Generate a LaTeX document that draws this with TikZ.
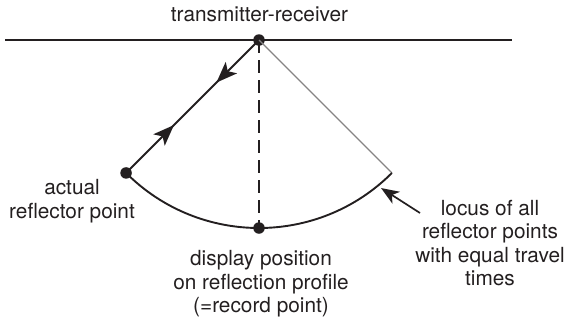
\documentclass[tikz,border=0pt]{standalone}
\usepackage{fontspec}
\setmainfont{TeX Gyre Heros}
\usetikzlibrary{arrows.meta,decorations.markings,calc}
\definecolor{ink}{HTML}{231F20}
\begin{document}
\begin{tikzpicture}[x=1pt,y=1pt,
  dot/.style={circle,fill=ink,inner sep=0pt,minimum size=11.5pt},
  lbl/.style={align=center,text=ink,font=\fontsize{20.8}{23.5}\selectfont,inner sep=0pt},
  ray/.style={line width=1.9pt,draw=ink},
  midarrows/.style={postaction={decorate},decoration={markings,
     mark=at position 0.36 with {\arrow{Stealth[length=21pt,width=16pt,inset=5pt]}},
     mark=at position 0.68 with {\arrowreversed{Stealth[length=21pt,width=16pt,inset=5pt]}}}}]
\useasboundingbox (0,0) rectangle (565,-322);
\coordinate (H1) at (5,-40);
\coordinate (H2) at (512,-40);
\draw[line width=1.5pt,draw=ink] (H1) -- (H2);
\node[dot] (T) at (259,-40) {};
\node[dot] (L) at ($(T)+(225:188)$) {};
\node[dot] (B) at ($(T)+(270:188)$) {};
\coordinate (R) at ($(T)+(-45:188)$);
\draw[ray,midarrows] (L.center) -- (T.center);
\draw[line width=1.7pt,draw=ink,dash pattern=on 13pt off 7pt] (T.center) -- (B.center);
\draw[line width=1.3pt,draw=ink!55] (T.center) -- (R);
\draw[ray] (L.center) arc[start angle=225,end angle=315,radius=188];
\node[lbl] (tr) at (259.5,-14) {transmitter-receiver};
\node[lbl] (ar) at (72,-201) {actual\\reflector point};
\node[lbl] (dp) at (261,-284) {display position\\on reflection profile\\(=record point)};
\node[lbl] (lo) at (490,-243) {locus of all\\reflector points\\with equal travel\\times};
\coordinate (Atail) at (420,-213);
\coordinate (Ahead) at (381,-188);
\draw[line width=1.7pt,draw=ink,-{Stealth[length=18pt,width=14pt,inset=5pt]}] (Atail) -- (Ahead);
\end{tikzpicture}
\end{document}
